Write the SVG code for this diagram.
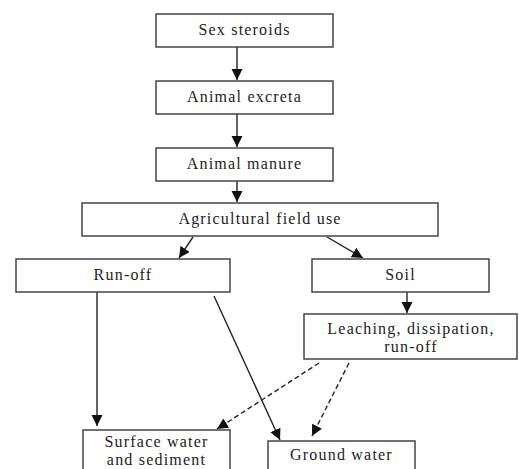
<svg xmlns="http://www.w3.org/2000/svg" width="519" height="469" viewBox="0 0 519 469">
<defs>
<style>
.box{fill:#fff;stroke:#444;stroke-width:1.5}
.t{font-family:"Liberation Serif","Times New Roman",serif;font-size:16px;letter-spacing:1.2px;fill:#222;text-anchor:middle}
.c{stroke:#222;stroke-width:1.4;fill:none;marker-end:url(#ah)}
.d{stroke-dasharray:5,3}
</style>
<marker id="ah" markerUnits="userSpaceOnUse" markerWidth="12" markerHeight="12" viewBox="0 0 12 12" refX="11" refY="6" orient="auto">
<path d="M0,0.5 L11,6 L0,11.5 Z" fill="#111"/>
</marker>
</defs>
<rect width="519" height="469" fill="#fff"/>
<g id="connectors">
<line class="c" x1="237" y1="47" x2="237" y2="80"/>
<line class="c" x1="237" y1="114" x2="237" y2="147"/>
<line class="c" x1="237" y1="181" x2="237" y2="202"/>
<line class="c" x1="193" y1="237" x2="179" y2="258"/>
<line class="c" x1="327" y1="237" x2="363" y2="258"/>
<line class="c" x1="407" y1="292" x2="407" y2="313"/>
<line class="c" x1="97" y1="292" x2="97" y2="426"/>
<line class="c" x1="214" y1="296" x2="280" y2="440"/>
<line class="c d" x1="319" y1="363" x2="217" y2="429"/>
<line class="c d" x1="349" y1="363" x2="312" y2="436"/>
</g>
<g id="sex-steroids"><rect class="box" x="156" y="14" width="177" height="33"/><text class="t" x="244.5" y="35">Sex steroids</text></g>
<g id="animal-excreta"><rect class="box" x="156" y="81" width="177" height="33"/><text class="t" x="244.5" y="102">Animal excreta</text></g>
<g id="animal-manure"><rect class="box" x="156" y="148" width="177" height="33"/><text class="t" x="244.5" y="169">Animal manure</text></g>
<g id="agricultural-field-use"><rect class="box" x="82" y="203" width="356" height="33"/><text class="t" x="260" y="224">Agricultural field use</text></g>
<g id="run-off"><rect class="box" x="16" y="259" width="214" height="33"/><text class="t" x="123" y="280">Run-off</text></g>
<g id="soil"><rect class="box" x="312" y="259" width="177" height="33"/><text class="t" x="400.5" y="280">Soil</text></g>
<g id="leaching"><rect class="box" x="304" y="314" width="213" height="45"/><text class="t" x="411" y="334">Leaching, dissipation,</text><text class="t" x="411" y="352">run-off</text></g>
<g id="surface-water"><rect class="box" x="83" y="430" width="147" height="45"/><text class="t" x="156.5" y="447">Surface water</text><text class="t" x="156.5" y="465">and sediment</text></g>
<g id="ground-water"><rect class="box" x="268" y="441" width="147" height="40"/><text class="t" x="341.5" y="460">Ground water</text></g>
</svg>
